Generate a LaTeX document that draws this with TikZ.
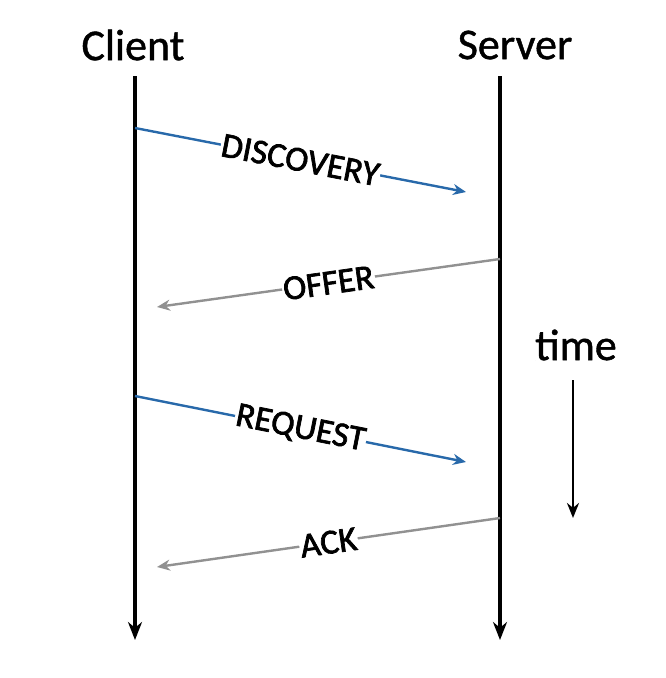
\documentclass[tikz,border=0pt]{standalone}
\usepackage{fontspec}
\setmainfont{Carlito}[FakeBold=1]
\newfontfamily\lblfont{Carlito}[FakeBold=2]
\usetikzlibrary{arrows.meta}
\begin{document}
\begin{tikzpicture}[x=1pt,y=-1pt,
  actor/.style={font=\fontsize{44}{48}\selectfont, inner sep=0pt},
  life/.style={line width=3.2pt, -{Stealth[length=18pt,width=14pt]}},
  msgblue/.style={draw={rgb,255:red,40;green,105;blue,170}, line width=2.4pt, -{Stealth[length=13pt,width=11pt]}},
  msggray/.style={draw={rgb,255:red,145;green,145;blue,145}, line width=2.4pt, -{Stealth[length=13pt,width=11pt]}},
  lbl/.style={font=\lblfont\fontsize{35}{38}\selectfont, fill=white, inner sep=1pt, sloped, pos=0.5}]
\useasboundingbox (0,0) rectangle (666,678);
\node[actor] (client) at (133,45) {Client};
\node[actor] (server) at (515,45) {Server};
\node[actor] (time) at (576,345) {time};
\coordinate (ct) at (135,76);
\coordinate (cb) at (135,640);
\coordinate (st) at (500,76);
\coordinate (sb) at (500,640);
\draw[life] (ct) -- (cb);
\draw[life] (st) -- (sb);
\coordinate (d1) at (135,128); \coordinate (d2) at (466,192);
\coordinate (o1) at (500,259); \coordinate (o2) at (157,307);
\coordinate (r1) at (135,396); \coordinate (r2) at (466,462);
\coordinate (a1) at (500,518); \coordinate (a2) at (157,567);
\draw[msgblue] (d1) -- node[lbl] {DISCOVERY} (d2);
\draw[msggray] (o1) -- node[lbl] {OFFER} (o2);
\draw[msgblue] (r1) -- node[lbl] {REQUEST} (r2);
\draw[msggray] (a1) -- node[lbl] {ACK} (a2);
\coordinate (tt) at (573,380);
\coordinate (tb) at (573,518);
\draw[line width=2.8pt, -{Stealth[length=15pt,width=12pt]}] (tt) -- (tb);
\end{tikzpicture}
\end{document}
